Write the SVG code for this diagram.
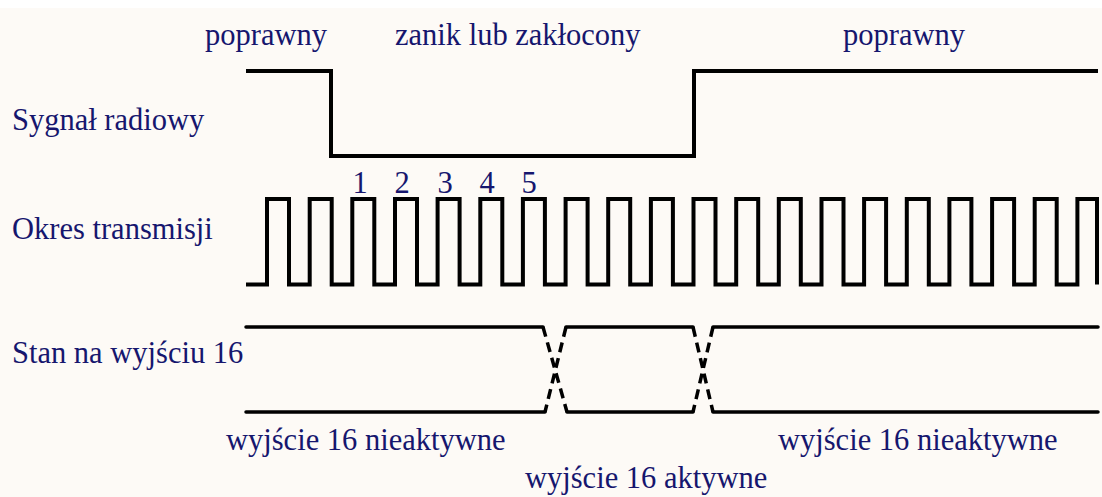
<svg xmlns="http://www.w3.org/2000/svg" width="1102" height="497" viewBox="0 0 1102 497">
<style>
.t{font-family:"Liberation Serif","Times New Roman",serif;font-size:30.5px;fill:#16166e}
.w{fill:none;stroke:#000;stroke-width:4;stroke-linejoin:miter;stroke-linecap:butt}
.s{fill:none;stroke:#000;stroke-width:3.5;stroke-linecap:round}
.d{fill:none;stroke:#000;stroke-width:3.5;stroke-dasharray:10 6}
</style>
<rect width="1102" height="497" fill="#fdfaf6"/>
<rect width="1102" height="8" fill="#ffffff"/>
<g id="labels">
<text class="t" x="205" y="45">poprawny</text>
<text class="t" x="395" y="45">zanik lub zakłocony</text>
<text class="t" x="843" y="45">poprawny</text>
<text class="t" x="12" y="130">Sygnał radiowy</text>
<text class="t" x="12" y="239">Okres transmisji</text>
<text class="t" x="12" y="363">Stan na wyjściu 16</text>
<text class="t" x="226" y="450">wyjście 16 nieaktywne</text>
<text class="t" x="778" y="450">wyjście 16 nieaktywne</text>
<text class="t" x="525" y="488">wyjście 16 aktywne</text>
</g>
<g id="numbers" class="t" text-anchor="middle">
<text x="360" y="193">1</text>
<text x="402" y="193">2</text>
<text x="445" y="193">3</text>
<text x="487" y="193">4</text>
<text x="529" y="193">5</text>
</g>
<g id="radio">
<path class="w" d="M246,71 H331 V156 H694 V71 H1098"/>
</g>
<g id="transmission">
<path class="w" d="M246,284.5 H267 V199 H289 V284.5 H309.7 V199 H331.7 V284.5 H352.3 V199 H374.3 V284.5 H395 V199 H417 V284.5 H437.6 V199 H459.6 V284.5 H480.3 V199 H502.3 V284.5 H522.9 V199 H544.9 V284.5 H565.6 V199 H587.6 V284.5 H608.2 V199 H630.2 V284.5 H650.9 V199 H672.9 V284.5 H693.5 V199 H715.5 V284.5 H736.2 V199 H758.2 V284.5 H778.8 V199 H800.8 V284.5 H821.5 V199 H843.5 V284.5 H864.1 V199 H886.1 V284.5 H906.8 V199 H928.8 V284.5 H949.4 V199 H971.4 V284.5 H992.1 V199 H1014.1 V284.5 H1034.7 V199 H1056.7 V284.5 H1077.4 V199 H1097 V284.5"/>
</g>
<g id="output-state">
<path class="s" d="M246,327 H543 M566,327 H693 M713,327 H1098 M246,412 H545 M567,412 H693 M713,412 H1098"/>
<path class="d" d="M543,327 L567,412 M566,327 L545,412 M693,327 L713,412 M713,327 L693,412"/>
</g>
</svg>
